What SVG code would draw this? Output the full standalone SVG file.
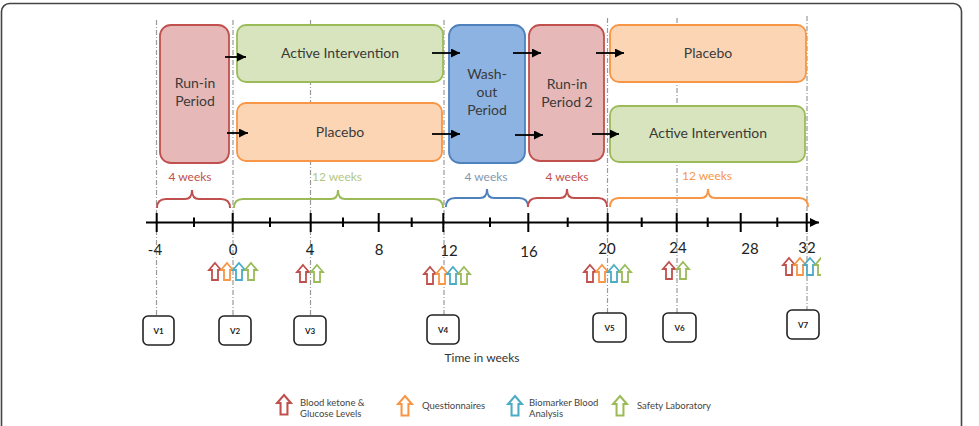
<svg xmlns="http://www.w3.org/2000/svg" xmlns:xlink="http://www.w3.org/1999/xlink" width="979" height="426" viewBox="0 0 979 426">
<style>
text{font-family:Lato,"Liberation Sans",sans-serif}
.box{stroke-width:1.8}
.red{fill:#e6b9b8;stroke:#c0504d}
.grn{fill:#d7e4bd;stroke:#9bbb59}
.org{fill:#fcd5b5;stroke:#f79646}
.blu{fill:#8db3e2;stroke:#4f81bd}
.bt{font-size:14px;fill:#3a3a3a;text-anchor:middle}
.dash{stroke:#9a9a9a;stroke-width:1.2;stroke-dasharray:5 2 1 2;fill:none}
.conn{stroke:#000;stroke-width:1.8;fill:none;marker-end:url(#ah)}
.brace{fill:none;stroke-width:2}
.wk{font-size:12px;text-anchor:middle}
.tick{stroke:#000;stroke-width:2}
.num{font-size:15px;fill:#222;text-anchor:middle}
.vb{fill:#fff;stroke:#222;stroke-width:1.6}
.vt{font-size:8px;font-weight:bold;fill:#222;text-anchor:middle}
.ar{fill:#fff;stroke-width:1.8;stroke-linejoin:miter}
.ar.r{stroke:#c0504d}.ar.o{stroke:#f79646}.ar.b{stroke:#4bacc6}.ar.g{stroke:#9bbb59}
.lg{font-size:9.5px;fill:#444}
</style>
<defs>
<marker id="ah" viewBox="0 0 10 10" refX="10" refY="5" markerWidth="9" markerHeight="9" markerUnits="userSpaceOnUse" orient="auto"><path d="M0,0 L10,5 L0,10 Z" fill="#000"/></marker>
<path id="up" d="M0,0 L6,7 L3,7 L3,17 L-3,17 L-3,7 L-6,7 Z"/>
<clipPath id="clip32"><rect x="0" y="0" width="821" height="426"/></clipPath>
</defs>
<rect x="1.5" y="3.5" width="960" height="470" rx="8" fill="none" stroke="#444" stroke-width="1.6"/>

<g id="guides">
<line class="dash" x1="156.5" y1="20" x2="156.5" y2="316"/>
<line class="dash" x1="233" y1="20" x2="233" y2="316"/>
<line class="dash" x1="310.5" y1="20" x2="310.5" y2="316"/>
<line class="dash" x1="444" y1="20" x2="444" y2="315"/>
<line class="dash" x1="607.5" y1="18" x2="607.5" y2="313"/>
<line class="dash" x1="677" y1="18" x2="677" y2="313"/>
<line class="dash" x1="807" y1="16" x2="807" y2="310"/>
</g>

<g id="runin"><rect class="box red" x="160" y="25" width="69" height="138" rx="11"/><text class="bt" x="195" y="88">Run-in</text><text class="bt" x="195" y="106">Period</text></g>
<g id="active1"><rect class="box grn" x="237" y="25" width="206" height="57" rx="9"/><text class="bt" x="340" y="58">Active Intervention</text></g>
<g id="placebo1"><rect class="box org" x="237" y="103" width="205" height="58" rx="9"/><text class="bt" x="340" y="137">Placebo</text></g>
<g id="washout"><rect class="box blu" x="449" y="25" width="76" height="138" rx="11"/><text class="bt" x="487" y="79">Wash-</text><text class="bt" x="487" y="97">out</text><text class="bt" x="487" y="115">Period</text></g>
<g id="runin2"><rect class="box red" x="529" y="25" width="75" height="136" rx="11"/><text class="bt" x="567" y="89">Run-in</text><text class="bt" x="567" y="107">Period 2</text></g>
<g id="placebo2"><rect class="box org" x="610" y="25" width="196" height="57" rx="9"/><text class="bt" x="708" y="58">Placebo</text></g>
<g id="active2"><rect class="box grn" x="610" y="106" width="195" height="56" rx="9"/><text class="bt" x="708" y="138">Active Intervention</text></g>

<g id="connectors">
<line class="conn" x1="225" y1="57" x2="246" y2="57"/>
<line class="conn" x1="227" y1="133" x2="248" y2="133"/>
<line class="conn" x1="432" y1="53" x2="460" y2="53"/>
<line class="conn" x1="432" y1="134" x2="460" y2="134"/>
<line class="conn" x1="513" y1="53" x2="541" y2="53"/>
<line class="conn" x1="515" y1="135" x2="543" y2="135"/>
<line class="conn" x1="596" y1="53" x2="624" y2="53"/>
<line class="conn" x1="592" y1="134" x2="619" y2="134"/>
</g>

<g id="durations">
<text class="wk" x="190" y="181" fill="#c0504d">4 weeks</text>
<text class="wk" x="337" y="181" fill="#b3c77f">12 weeks</text>
<text class="wk" x="486" y="181" fill="#8497b0">4 weeks</text>
<text class="wk" x="567" y="181" fill="#c0504d">4 weeks</text>
<text class="wk" x="707" y="180" fill="#f79646">12 weeks</text>
<path class="brace" stroke="#c0504d" d="M157,208 Q157,199 166,199 L185,199 Q192,199 192,190 Q192,199 199,199 L221,199 Q230,199 230,208"/>
<path class="brace" stroke="#9bbb59" d="M234,208 Q234,199 243,199 L331,199 Q338,199 338,190 Q338,199 345,199 L434,199 Q443,199 443,208"/>
<path class="brace" stroke="#4f81bd" d="M446,207 Q446,198 455,198 L480,198 Q487,198 487,189 Q487,198 494,198 L519,198 Q528,198 528,207"/>
<path class="brace" stroke="#c0504d" d="M528,207 Q528,198 537,198 L560,198 Q567,198 567,189 Q567,198 574,198 L598,198 Q607,198 607,207"/>
<path class="brace" stroke="#f79646" d="M610,207 Q610,198 619,198 L701,198 Q708,198 708,189 Q708,198 715,198 L799,198 Q808,198 808,207"/>
</g>

<g id="axis">
<line x1="146" y1="222.5" x2="819" y2="222.5" stroke="#000" stroke-width="2" marker-end="url(#ah)"/>
<g class="tick">
<line x1="156.7" y1="213" x2="156.7" y2="232"/><line x1="232.7" y1="213" x2="232.7" y2="232"/><line x1="310.7" y1="213" x2="310.7" y2="232"/><line x1="378.7" y1="213" x2="378.7" y2="232"/><line x1="443.3" y1="213" x2="443.3" y2="232"/><line x1="528.3" y1="213" x2="528.3" y2="232"/><line x1="607.7" y1="213" x2="607.7" y2="232"/><line x1="676.7" y1="213" x2="676.7" y2="232"/><line x1="740.7" y1="213" x2="740.7" y2="232"/><line x1="806.7" y1="213" x2="806.7" y2="232"/>
<line x1="194" y1="217.5" x2="194" y2="227"/><line x1="270" y1="217.5" x2="270" y2="227"/><line x1="343" y1="217.5" x2="343" y2="227"/><line x1="411.7" y1="217.5" x2="411.7" y2="227"/><line x1="490" y1="217.5" x2="490" y2="227"/><line x1="567.7" y1="217.5" x2="567.7" y2="227"/><line x1="641.7" y1="217.5" x2="641.7" y2="227"/><line x1="707.7" y1="217.5" x2="707.7" y2="227"/><line x1="777.3" y1="217.5" x2="777.3" y2="227"/>
</g>
<text class="num" x="155" y="255">-4</text>
<text class="num" x="233" y="255">0</text>
<text class="num" x="310" y="255">4</text>
<text class="num" x="379" y="255">8</text>
<text class="num" x="449" y="256">12</text>
<text class="num" x="529" y="257">16</text>
<text class="num" x="607" y="254">20</text>
<text class="num" x="678" y="253">24</text>
<text class="num" x="750" y="254">28</text>
<text class="num" x="807" y="253">32</text>
</g>

<g id="measures">
<use href="#up" class="ar r" x="215" y="263"/><use href="#up" class="ar o" x="227" y="263"/><use href="#up" class="ar b" x="239" y="263"/><use href="#up" class="ar g" x="251" y="263"/>
<use href="#up" class="ar r" x="303" y="265"/><use href="#up" class="ar g" x="317" y="265"/>
<use href="#up" class="ar r" x="430" y="267"/><use href="#up" class="ar o" x="442" y="267"/><use href="#up" class="ar b" x="453" y="267"/><use href="#up" class="ar g" x="464" y="267"/>
<use href="#up" class="ar r" x="590" y="265"/><use href="#up" class="ar o" x="602" y="265"/><use href="#up" class="ar b" x="614" y="265"/><use href="#up" class="ar g" x="625" y="265"/>
<use href="#up" class="ar r" x="669" y="262"/><use href="#up" class="ar g" x="683" y="262"/>
<g clip-path="url(#clip32)"><use href="#up" class="ar r" x="789" y="258"/><use href="#up" class="ar o" x="800" y="258"/><use href="#up" class="ar b" x="810" y="258"/><use href="#up" class="ar g" x="821" y="258"/></g>
</g>

<g id="v1"><rect class="vb" x="143" y="316" width="31" height="29" rx="5"/><text class="vt" x="158.5" y="334">V1</text></g>
<g id="v2"><rect class="vb" x="219" y="316" width="32" height="29" rx="5"/><text class="vt" x="235" y="334">V2</text></g>
<g id="v3"><rect class="vb" x="294" y="316" width="32" height="29" rx="5"/><text class="vt" x="310" y="334">V3</text></g>
<g id="v4"><rect class="vb" x="427" y="315" width="32" height="29" rx="5"/><text class="vt" x="443" y="333">V4</text></g>
<g id="v5"><rect class="vb" x="593" y="313" width="33" height="29" rx="5"/><text class="vt" x="609.5" y="331">V5</text></g>
<g id="v6"><rect class="vb" x="663" y="313" width="33" height="29" rx="5"/><text class="vt" x="679.5" y="331">V6</text></g>
<g id="v7"><rect class="vb" x="787" y="310" width="32" height="29" rx="5"/><text class="vt" x="803" y="328">V7</text></g>

<text x="482" y="362" font-size="12" fill="#333" text-anchor="middle">Time in weeks</text>

<g id="legend">
<use href="#up" class="ar r" transform="translate(284,395) scale(1.15)"/>
<text class="lg" x="300" y="406">Blood ketone  &amp;</text><text class="lg" x="300" y="417">Glucose Levels</text>
<use href="#up" class="ar o" transform="translate(405,396) scale(1.15)"/>
<text class="lg" x="422" y="409">Questionnaires</text>
<use href="#up" class="ar b" transform="translate(515,396) scale(1.15)"/>
<text class="lg" x="529" y="406">Biomarker  Blood</text><text class="lg" x="529" y="417">Analysis</text>
<use href="#up" class="ar g" transform="translate(620,396) scale(1.15)"/>
<text class="lg" x="637" y="409">Safety Laboratory</text>
</g>
</svg>
